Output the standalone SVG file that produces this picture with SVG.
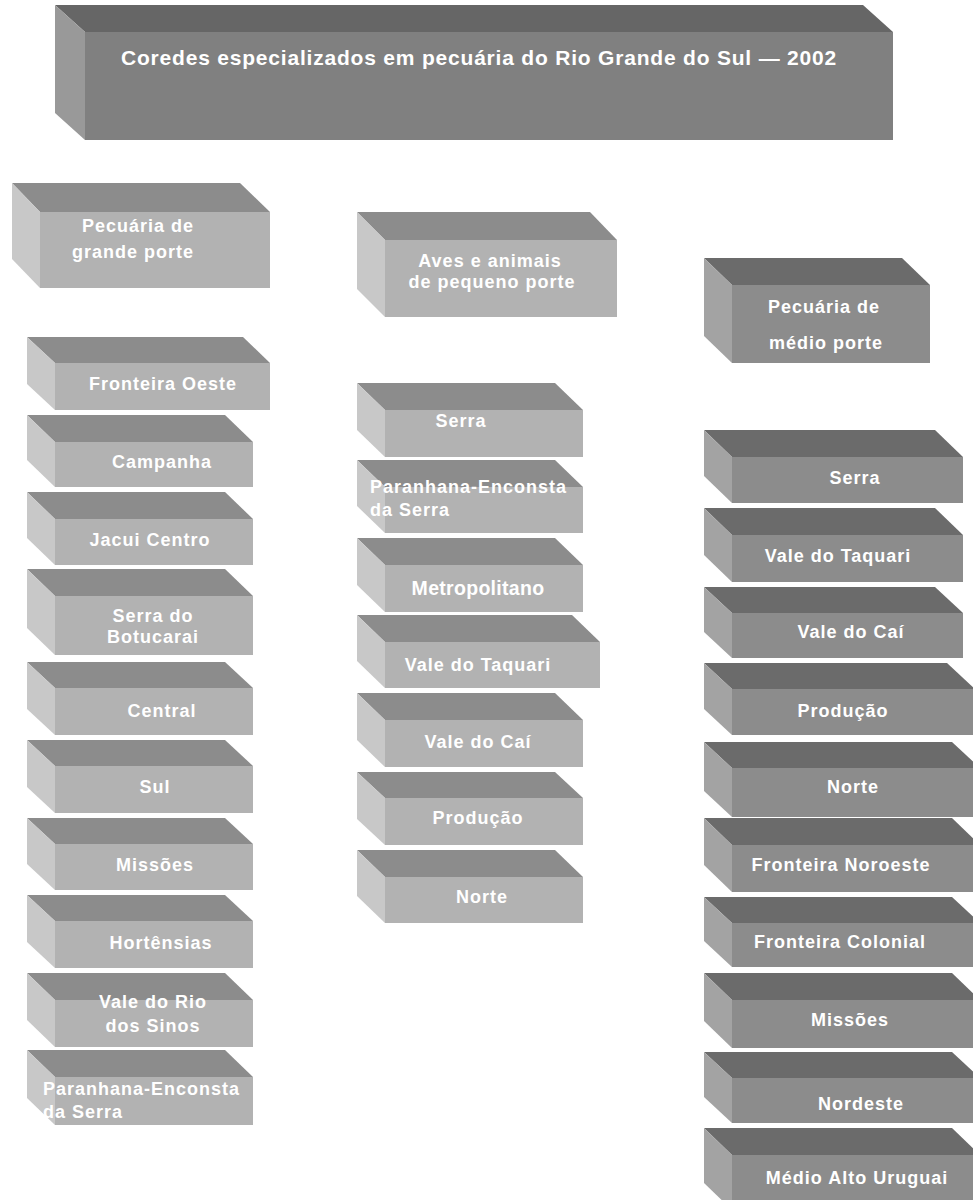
<svg xmlns="http://www.w3.org/2000/svg" width="973" height="1200" viewBox="0 0 973 1200">
<style>
.T .top{fill:#666666}.T .side{fill:#999999}.T .front{fill:#808080}
.L .top{fill:#8c8c8c}.L .side{fill:#c8c8c8}.L .front{fill:#b2b2b2}
.D .top{fill:#6b6b6b}.D .side{fill:#a3a3a3}.D .front{fill:#8c8c8c}
text{font-family:"Liberation Sans",Arial,sans-serif;font-weight:bold;fill:#ffffff}
.lbl{font-size:18px;letter-spacing:1px;text-anchor:middle}
.st{text-anchor:start}
.ttl{font-size:21px;letter-spacing:0.8px;text-anchor:middle}
</style>
<rect width="973" height="1200" fill="#ffffff"/>
<g id="connectors"></g>

<g id="title" class="T">
<polygon class="top" points="55,5 863,5 893,32 85,32"/>
<polygon class="side" points="55,5 85,32 85,140 55,113"/>
<rect class="front" x="85" y="32" width="808" height="108"/>
<text class="ttl" x="479" y="65">Coredes especializados em pecuária do Rio Grande do Sul — 2002</text>
</g>

<g id="h-grande" class="L">
<polygon class="top" points="12,183 240,183 270,212 40,212"/>
<polygon class="side" points="12,183 40,212 40,288 12,259"/>
<rect class="front" x="40" y="212" width="230" height="76"/>
<text class="lbl st" x="82" y="232">Pecuária de</text>
<text class="lbl st" x="72" y="258">grande porte</text>
</g>

<g id="h-pequeno" class="L">
<polygon class="top" points="357,212 590,212 617,240 385,240"/>
<polygon class="side" points="357,212 385,240 385,317 357,289"/>
<rect class="front" x="385" y="240" width="232" height="77"/>
<text class="lbl" x="490" y="267">Aves e animais</text>
<text class="lbl" x="492" y="288">de pequeno porte</text>
</g>

<g id="h-medio" class="D">
<polygon class="top" points="704,258 902,258 930,285 732,285"/>
<polygon class="side" points="704,258 732,285 732,363 704,336"/>
<rect class="front" x="732" y="285" width="198" height="78"/>
<text class="lbl" x="824" y="313">Pecuária de</text>
<text class="lbl" x="826" y="349">médio porte</text>
</g>

<!-- Left column -->
<g id="l1" class="L">
<polygon class="top" points="27,337 243,337 270,363 55,363"/>
<polygon class="side" points="27,337 55,363 55,410 27,384"/>
<rect class="front" x="55" y="363" width="215" height="47"/>
<text class="lbl" x="163" y="390">Fronteira Oeste</text>
</g>
<g id="l2" class="L">
<polygon class="top" points="27,415 225,415 253,442 55,442"/>
<polygon class="side" points="27,415 55,442 55,487 27,460"/>
<rect class="front" x="55" y="442" width="198" height="45"/>
<text class="lbl" x="162" y="468">Campanha</text>
</g>
<g id="l3" class="L">
<polygon class="top" points="27,492 225,492 253,519 55,519"/>
<polygon class="side" points="27,492 55,519 55,565 27,538"/>
<rect class="front" x="55" y="519" width="198" height="46"/>
<text class="lbl" x="150" y="546">Jacui Centro</text>
</g>
<g id="l4" class="L">
<polygon class="top" points="27,569 225,569 253,596 55,596"/>
<polygon class="side" points="27,569 55,596 55,655 27,628"/>
<rect class="front" x="55" y="596" width="198" height="59"/>
<text class="lbl" x="153" y="622">Serra do</text>
<text class="lbl" x="153" y="643">Botucarai</text>
</g>
<g id="l5" class="L">
<polygon class="top" points="27,662 225,662 253,688 55,688"/>
<polygon class="side" points="27,662 55,688 55,735 27,709"/>
<rect class="front" x="55" y="688" width="198" height="47"/>
<text class="lbl" x="162" y="717">Central</text>
</g>
<g id="l6" class="L">
<polygon class="top" points="27,740 225,740 253,766 55,766"/>
<polygon class="side" points="27,740 55,766 55,813 27,787"/>
<rect class="front" x="55" y="766" width="198" height="47"/>
<text class="lbl" x="155" y="793">Sul</text>
</g>
<g id="l7" class="L">
<polygon class="top" points="27,818 225,818 253,844 55,844"/>
<polygon class="side" points="27,818 55,844 55,890 27,864"/>
<rect class="front" x="55" y="844" width="198" height="46"/>
<text class="lbl" x="155" y="871">Missões</text>
</g>
<g id="l8" class="L">
<polygon class="top" points="27,895 225,895 253,921 55,921"/>
<polygon class="side" points="27,895 55,921 55,968 27,942"/>
<rect class="front" x="55" y="921" width="198" height="47"/>
<text class="lbl" x="161" y="949">Hortênsias</text>
</g>
<g id="l9" class="L">
<polygon class="top" points="27,973 225,973 253,1000 55,1000"/>
<polygon class="side" points="27,973 55,1000 55,1047 27,1020"/>
<rect class="front" x="55" y="1000" width="198" height="47"/>
<text class="lbl" x="153" y="1008">Vale do Rio</text>
<text class="lbl" x="153" y="1032">dos Sinos</text>
</g>
<g id="l10" class="L">
<polygon class="top" points="27,1050 225,1050 253,1077 55,1077"/>
<polygon class="side" points="27,1050 55,1077 55,1125 27,1098"/>
<rect class="front" x="55" y="1077" width="198" height="48"/>
<text class="lbl st" x="43" y="1095">Paranhana-Enconsta</text>
<text class="lbl st" x="43" y="1118">da Serra</text>
</g>

<!-- Middle column -->
<g id="m1" class="L">
<polygon class="top" points="357,383 555,383 583,410 385,410"/>
<polygon class="side" points="357,383 385,410 385,457 357,430"/>
<rect class="front" x="385" y="410" width="198" height="47"/>
<text class="lbl" x="461" y="427">Serra</text>
</g>
<g id="m2" class="L">
<polygon class="top" points="357,460 555,460 583,487 385,487"/>
<polygon class="side" points="357,460 385,487 385,533 357,506"/>
<rect class="front" x="385" y="487" width="198" height="46"/>
<text class="lbl st" x="370" y="493">Paranhana-Enconsta</text>
<text class="lbl st" x="370" y="516">da Serra</text>
</g>
<g id="m3" class="L">
<polygon class="top" points="357,538 555,538 583,565 385,565"/>
<polygon class="side" points="357,538 385,565 385,612 357,585"/>
<rect class="front" x="385" y="565" width="198" height="47"/>
<text class="lbl" x="478" y="595" style="font-size:19.5px;letter-spacing:0.3px">Metropolitano</text>
</g>
<g id="m4" class="L">
<polygon class="top" points="357,615 572,615 600,642 385,642"/>
<polygon class="side" points="357,615 385,642 385,688 357,661"/>
<rect class="front" x="385" y="642" width="215" height="46"/>
<text class="lbl" x="478" y="671">Vale do Taquari</text>
</g>
<g id="m5" class="L">
<polygon class="top" points="357,693 555,693 583,720 385,720"/>
<polygon class="side" points="357,693 385,720 385,767 357,740"/>
<rect class="front" x="385" y="720" width="198" height="47"/>
<text class="lbl" x="478" y="748">Vale do Caí</text>
</g>
<g id="m6" class="L">
<polygon class="top" points="357,772 555,772 583,798 385,798"/>
<polygon class="side" points="357,772 385,798 385,845 357,819"/>
<rect class="front" x="385" y="798" width="198" height="47"/>
<text class="lbl" x="478" y="824">Produção</text>
</g>
<g id="m7" class="L">
<polygon class="top" points="357,850 555,850 583,877 385,877"/>
<polygon class="side" points="357,850 385,877 385,923 357,896"/>
<rect class="front" x="385" y="877" width="198" height="46"/>
<text class="lbl" x="482" y="903">Norte</text>
</g>

<!-- Right column -->
<g id="r1" class="D">
<polygon class="top" points="704,430 935,430 963,457 732,457"/>
<polygon class="side" points="704,430 732,457 732,503 704,476"/>
<rect class="front" x="732" y="457" width="231" height="46"/>
<text class="lbl" x="855" y="484">Serra</text>
</g>
<g id="r2" class="D">
<polygon class="top" points="704,508 935,508 963,535 732,535"/>
<polygon class="side" points="704,508 732,535 732,582 704,555"/>
<rect class="front" x="732" y="535" width="231" height="47"/>
<text class="lbl" x="838" y="562">Vale do Taquari</text>
</g>
<g id="r3" class="D">
<polygon class="top" points="704,587 935,587 963,613 732,613"/>
<polygon class="side" points="704,587 732,613 732,658 704,632"/>
<rect class="front" x="732" y="613" width="231" height="45"/>
<text class="lbl" x="851" y="638">Vale do Caí</text>
</g>
<g id="r4" class="D">
<polygon class="top" points="704,663 947,663 975,689 732,689"/>
<polygon class="side" points="704,663 732,689 732,735 704,709"/>
<rect class="front" x="732" y="689" width="243" height="46"/>
<text class="lbl" x="843" y="717">Produção</text>
</g>
<g id="r5" class="D">
<polygon class="top" points="704,742 952,742 980,768 732,768"/>
<polygon class="side" points="704,742 732,768 732,817 704,791"/>
<rect class="front" x="732" y="768" width="248" height="49"/>
<text class="lbl" x="853" y="793">Norte</text>
</g>
<g id="r6" class="D">
<polygon class="top" points="704,818 952,818 980,845 732,845"/>
<polygon class="side" points="704,818 732,845 732,892 704,865"/>
<rect class="front" x="732" y="845" width="248" height="47"/>
<text class="lbl" x="841" y="871">Fronteira Noroeste</text>
</g>
<g id="r7" class="D">
<polygon class="top" points="704,897 952,897 980,923 732,923"/>
<polygon class="side" points="704,897 732,923 732,967 704,941"/>
<rect class="front" x="732" y="923" width="248" height="44"/>
<text class="lbl" x="840" y="948">Fronteira Colonial</text>
</g>
<g id="r8" class="D">
<polygon class="top" points="704,973 952,973 980,1000 732,1000"/>
<polygon class="side" points="704,973 732,1000 732,1048 704,1021"/>
<rect class="front" x="732" y="1000" width="248" height="48"/>
<text class="lbl" x="850" y="1026">Missões</text>
</g>
<g id="r9" class="D">
<polygon class="top" points="704,1052 952,1052 980,1078 732,1078"/>
<polygon class="side" points="704,1052 732,1078 732,1123 704,1097"/>
<rect class="front" x="732" y="1078" width="248" height="45"/>
<text class="lbl" x="861" y="1110">Nordeste</text>
</g>
<g id="r10" class="D">
<polygon class="top" points="704,1128 952,1128 980,1155 732,1155"/>
<polygon class="side" points="704,1128 732,1155 732,1210 704,1183"/>
<rect class="front" x="732" y="1155" width="248" height="55"/>
<text class="lbl" x="857" y="1184">Médio Alto Uruguai</text>
</g>
</svg>
